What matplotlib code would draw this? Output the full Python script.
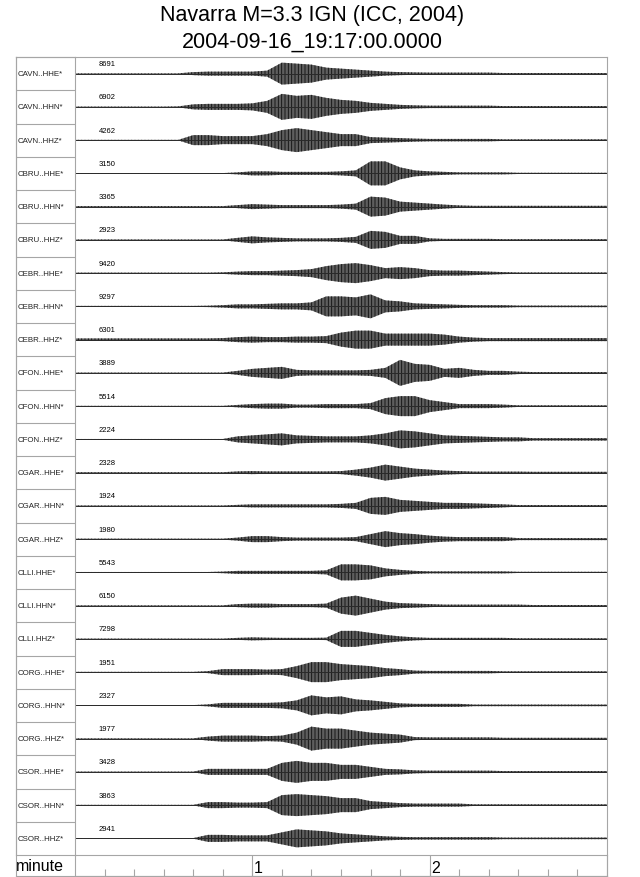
import numpy as np
import matplotlib
matplotlib.use("Agg")
import matplotlib.pyplot as plt

plt.rcParams['font.family'] = ['Liberation Sans', 'DejaVu Sans']
plt.rcParams['hatch.linewidth'] = 0.6

# Trace names and the scale numbers printed above each trace
stations = ["CAVN..HHE*", "CAVN..HHN*", "CAVN..HHZ*",
            "CBRU..HHE*", "CBRU..HHN*", "CBRU..HHZ*",
            "CEBR..HHE*", "CEBR..HHN*", "CEBR..HHZ*",
            "CFON..HHE*", "CFON..HHN*", "CFON..HHZ*",
            "CGAR..HHE*", "CGAR..HHN*", "CGAR..HHZ*",
            "CLLI.HHE*", "CLLI.HHN*", "CLLI.HHZ*",
            "CORG..HHE*", "CORG..HHN*", "CORG..HHZ*",
            "CSOR..HHE*", "CSOR..HHN*", "CSOR..HHZ*"]
scales = [8691, 6902, 4262, 3150, 3365, 2923, 9420, 9297, 6301, 3889, 5514, 2224,
          2328, 1924, 1980, 5543, 6150, 7298, 1951, 2327, 1977, 3428, 3863, 2941]

# time grid (seconds after 19:17:00), envelope read every 5 s
t_sec = np.arange(0, 181, 5)

# half-amplitude of each trace's envelope (pixels of the original plot)
env = [
    [.3]*8 + [1.5, 2, 2, 2, 2, 3, 11, 10, 9, 6, 5, 4, 3, 2, 1.5, 1.2, 1, 1, 1, 1, 1, .6] + [.6]*7,
    [.3]*7 + [.5, 2.5, 3, 3, 3, 3.5, 6, 13, 11, 12, 9, 7, 6, 4, 3, 2, 1.5, 1.2, 1.2, 1.2, 1.2, 1.2, .8] + [.8]*7,
    [.3]*8 + [5, 5, 4, 4, 4, 6, 10, 12, 10, 8, 6, 6, 3, 2.5, 2, 1.5, 1.2, 1.2, 1.2, 1.2, 1.2, .8] + [.8]*7,
    [.3]*11 + [1, 2, 2, 1.5, 1.5, 1.5, 1.5, 2, 3, 12, 12, 6, 3, 2, 1.5, 1, 1, 1, 1] + [.6]*7,
    [.5]*11 + [1.5, 2.5, 2, 1.5, 1.5, 1.5, 1.5, 2, 3, 10, 9, 5, 4, 3, 2, 1.2] + [.8]*10,
    [.4]*11 + [2, 3.5, 2.5, 2, 1.5, 1.5, 1.5, 2, 3, 9, 8, 4, 4, 1.5, 1, 1, 1, 1] + [.7]*8,
    [.5]*10 + [.8, 1.5, 2, 2, 2.5, 3, 4, 7, 9, 10, 8, 5, 6, 5, 3, 2.5, 2.5, 2, 1.5, 1] + [.7]*7,
    [.5]*9 + [.7, 1.2, 2, 2, 2.5, 3, 3, 4, 10, 10, 9, 12, 6, 5, 3, 2.5, 2, 1.5, 1.2, 1.2, 1.2] + [.8]*7,
    [1.2]*10 + [1.5, 2.5, 3, 2.5, 2.5, 3, 3, 3.5, 7, 9, 9, 6, 6, 6, 6, 5, 3, 2] + [1.5]*9,
    [.3]*11 + [2, 4, 5, 6, 3, 2.5, 2.5, 2.5, 2.5, 3, 5, 13, 9, 8, 4, 5, 3, 2, 2, 1.2] + [.8]*6,
    [.3]*11 + [1.2, 2, 2.5, 2.5, 1.5, 1.5, 2, 2, 2, 3, 8, 10, 10, 6, 4, 2, 2, 2, 1.5] + [.8]*7,
    [.4]*11 + [3, 4, 5, 6, 4, 3.5, 3, 3, 3, 4, 6, 9, 8, 6, 4, 3.5, 3, 2.5, 2, 2] + [1.2]*6,
    [.4]*11 + [1.2, 1.5, 1.2, 1.2, 1.2, 1.2, 1.2, 1.5, 3, 5, 8, 6, 4, 3, 2, 1.5] + [1]*4 + [.8]*6,
    [.4]*11 + [1, 1.5, 1.5, 1.5, 1.5, 1.5, 1.5, 2, 3, 8, 9, 6, 5, 4, 3, 3, 2.5, 2, 1.5] + [.8]*7,
    [.5]*11 + [1.5, 3, 3, 2, 1.5, 1.5, 1.5, 1.5, 2, 5, 8, 6, 5, 3.5, 2.5, 2, 2, 2, 2] + [1]*7,
    [.4]*10 + [.8, 1.5, 1.5, 1.5, 1.5, 1.5, 1.5, 2, 8, 8, 7, 4, 2.5, 1.5, 1, 1, 1, 1, 1, 1] + [.6]*7,
    [.3]*11 + [1.5, 2, 2, 1.5, 1.5, 1.5, 2, 8, 10, 7, 4, 2.5, 2, 1.5, 1, 1, 1, 1, 1, 1] + [.6]*6,
    [.3]*11 + [1, 1.5, 1.2, 1, 1, 1, 1.2, 8, 8, 6, 4, 2.5, 1.5, 1, 1, 1, 1, 1, 1] + [.6]*7,
    [.3]*9 + [1, 3, 3, 3, 2.5, 3, 6, 10, 10, 8, 7, 6, 4, 3, 1.5, 1.2, 1.2, 1.2, 1.2, 1.2] + [.8]*8,
    [.3]*9 + [1, 2.5, 2.5, 2.5, 2.5, 3, 5, 10, 8, 9, 6, 5, 3.5, 2, 1.5, 1.5, 1.5, 1.5] + [.8]*10,
    [.3]*9 + [2, 3, 3, 3, 2.5, 3, 6, 12, 10, 10, 8, 6, 5, 4, 1.5, 1.2, 1.2, 1.2, 1.2, 1.2] + [.8]*8,
    [.3]*9 + [3, 3, 3, 3, 3, 9, 11, 9, 9, 7, 7, 5, 3, 2.5, 1.5, 1.2, 1.2, 1.2, 1.2, 1.2] + [.8]*8,
    [.3]*9 + [3, 3, 2.5, 2.5, 3, 10, 11, 10, 9, 7, 7, 4, 3, 2, 1.5, 1.5, 1.5, 1.5] + [.8]*10,
    [.3]*9 + [3.5, 3.5, 3, 3, 3, 6, 9, 8, 7, 5, 4, 3, 2, 1.5, 1.2, 1.2, 1.2, 1.2, 1.2, 1.2] + [.8]*8,
]

W, H = 640, 878
fig = plt.figure(figsize=(W / 100, H / 100), dpi=100)
grey = "#a6a6a6"
n = len(stations)
row_h = 798 / n   # pixel height of one trace row


def box(x0, y0, x1, y1):
    # axes placed from pixel corners (top-left origin)
    return fig.add_axes([x0 / W, 1 - y1 / H, (x1 - x0) / W, (y1 - y0) / H])


# traces
ax = box(75, 58, 607, 856)
ax.set_xlim(0, 180)
ax.set_ylim(n, 0)
for i in range(n):
    base = i + 0.5
    e = np.array(env[i]) / row_h
    ax.fill_between(t_sec, base - e, base + e, facecolor="#5e5e5e",
                    edgecolor="#0d0d0d", hatch="|||||", lw=0)
    ax.plot([0, 180], [base, base], color="#2a2a2a", lw=0.7)
    ax.text(8, i + 0.2, str(scales[i]), fontsize=5.5, va="center", ha="left")
ax.axis("off")

# station label column
lab = box(15.5, 58, 75, 856)
lab.set_xlim(0, 1)
lab.set_ylim(n, 0)
for i in range(n):
    lab.text(0.03, i + 0.5, stations[i], fontsize=5.7, va="center", ha="left", color="#222222")
    if i > 0:
        lab.axhline(i, color=grey, lw=0.8)
lab.set_xticks([])
lab.set_yticks([])
for s in lab.spines.values():
    s.set_color(grey)

# outer frame of trace area
frame = box(15.5, 58, 607, 877)
frame.patch.set_visible(False)
frame.set_xticks([])
frame.set_yticks([])
for s in frame.spines.values():
    s.set_color(grey)

# time axis row
tax = box(75, 856, 607, 877)
tax.set_xlim(0, 3)
tax.set_ylim(0, 1)
tax.patch.set_visible(False)
tax.set_yticks([])
tax.set_xticks(np.arange(1, 18) / 6)
tax.tick_params(axis="x", direction="in", length=5, color=grey, labelbottom=False)
for m in [1, 2]:
    tax.axvline(m, color=grey, lw=0.8)
    tax.text(m + 0.01, 0.42, str(m), fontsize=11.5, va="center", ha="left")
for s in tax.spines.values():
    s.set_color(grey)
fig.text(16 / W, 1 - 867 / H, "minute", fontsize=11.5, va="center", ha="left")

fig.text(0.488, 1 - 15 / H, "Navarra M=3.3 IGN (ICC, 2004)", fontsize=15.5, ha="center", va="center")
fig.text(0.488, 1 - 42 / H, "2004-09-16_19:17:00.0000", fontsize=15.5, ha="center", va="center")

fig.savefig("out.png", dpi=100)
